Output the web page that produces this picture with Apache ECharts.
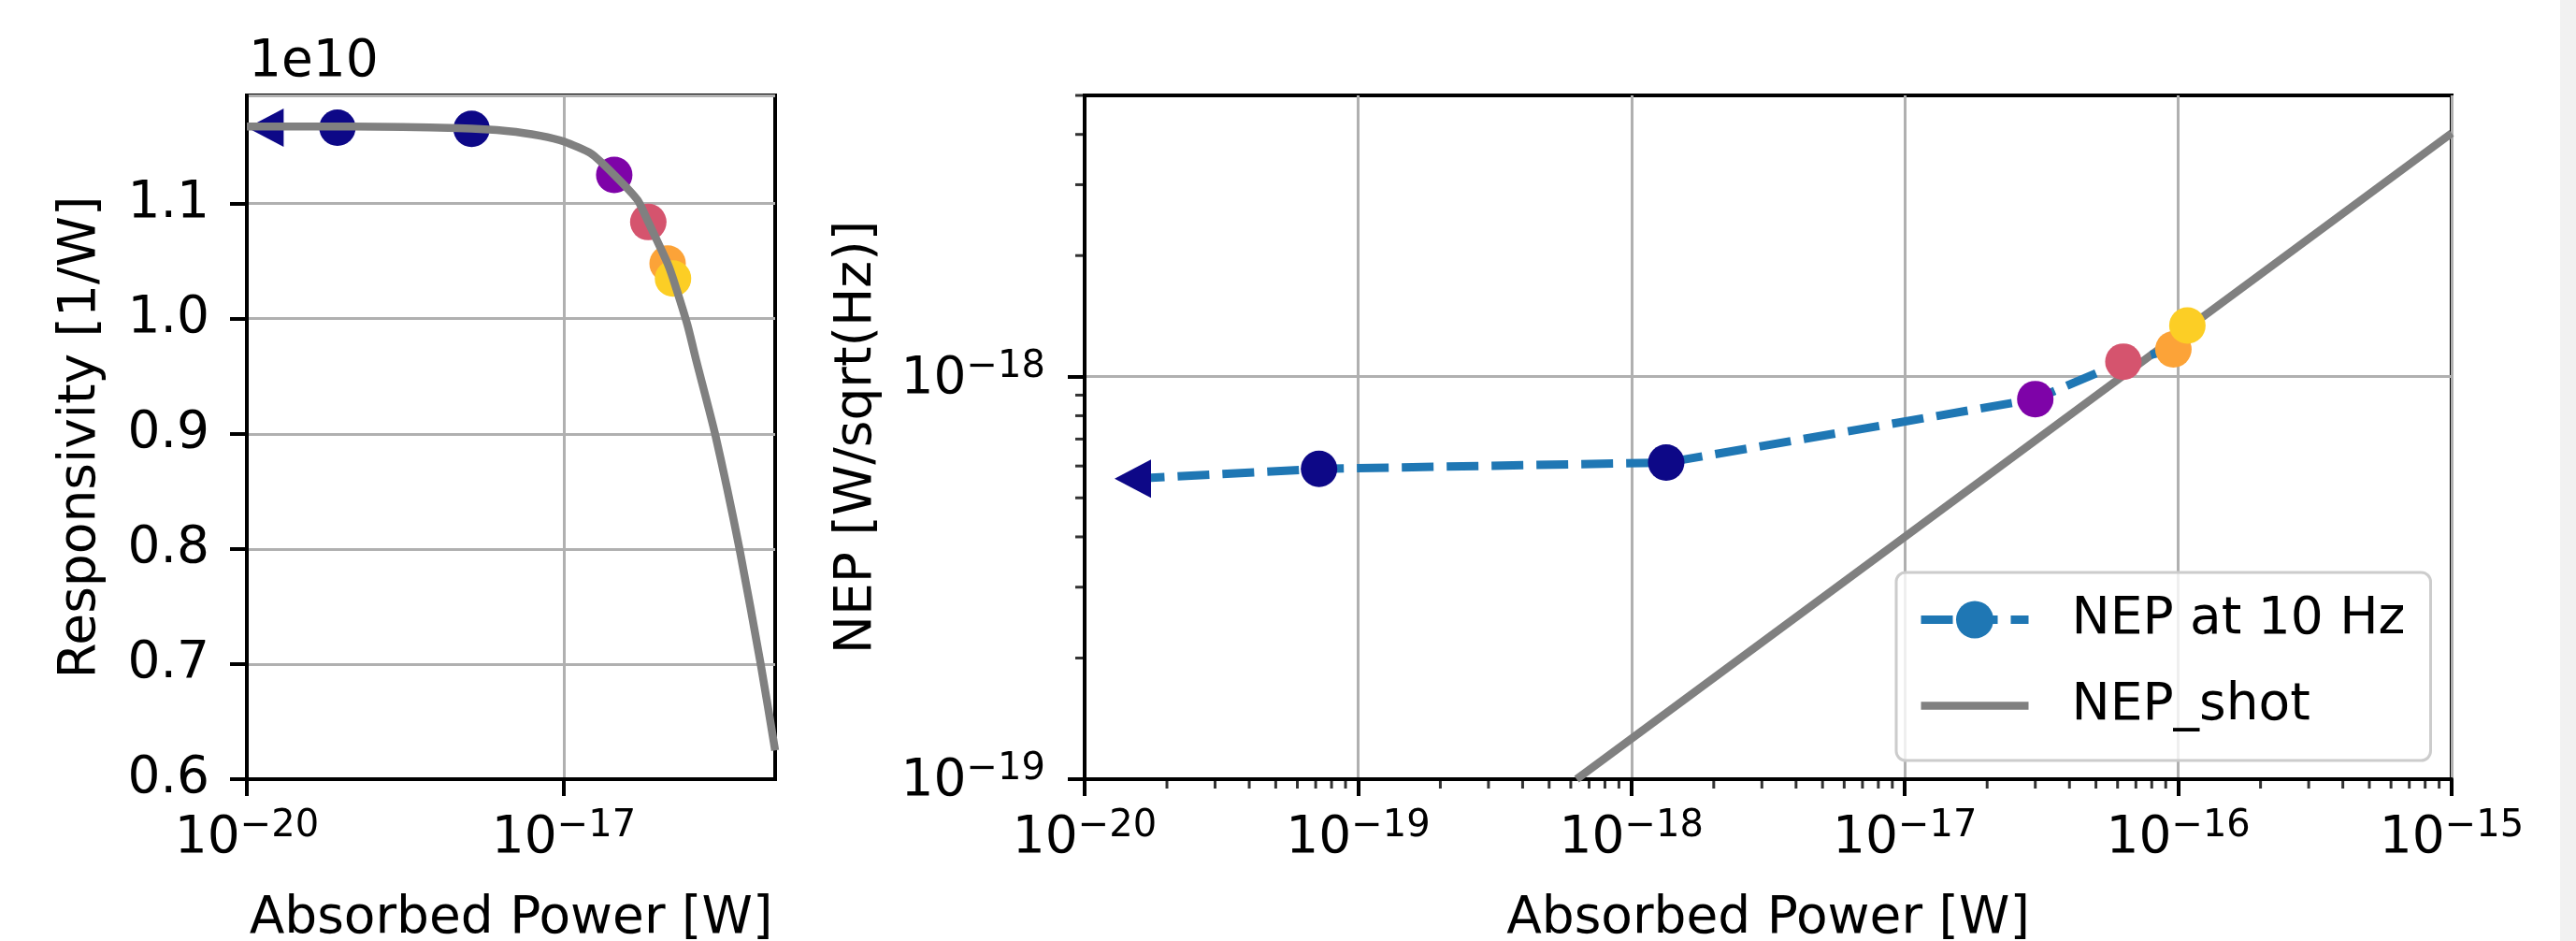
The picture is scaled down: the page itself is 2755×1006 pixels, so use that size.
<!DOCTYPE html>
<html style="height: 100%">
<head>
    <meta charset="UTF-8">
    <title>Responsivity and NEP vs absorbed power</title>
    <script src="https://cdn.jsdelivr.net/npm/echarts@6/dist/echarts.min.js"></script>
</head>
<body style="height: 100%; margin: 0; background: #fff">
    <div id="main" style="width: 2755px; height: 1006px"></div>
    <div style="position: absolute; left: 2738px; top: 0; width: 17px; height: 1006px; background: #f1f1f1"></div>
    <script type="text/javascript">
        // measured points (absorbed power in W)
        const power = [1.5e-20, 7.2e-20, 1.34e-18, 3.0e-17, 6.3e-17, 9.6e-17, 1.08e-16];
        const responsivity = [1.166e10, 1.166e10, 1.165e10, 1.125e10, 1.084e10, 1.048e10, 1.035e10];
        const nep = [5.58e-19, 5.9e-19, 6.12e-19, 8.8e-19, 1.09e-18, 1.17e-18, 1.34e-18];
        const pointColors = ['#0d0887', '#0d0887', '#0d0887', '#7e03a8', '#d5546e', '#fca338', '#fcce25'];

        // responsivity model curve (grey)
        const curvePower = [1e-20, 1e-19, 1e-18, 3e-18, 6e-18, 1e-17, 1.8e-17, 3e-17, 5e-17, 6.3e-17,
            9.6e-17, 1.08e-16, 1.48e-16, 1.8e-16, 2.7e-16, 4.6e-16, 7.3e-16, 1e-15];
        const curveResp = [1.167e10, 1.167e10, 1.1655e10, 1.163e10, 1.159e10, 1.154e10, 1.1436e10, 1.125e10,
            1.103e10, 1.084e10, 1.048e10, 1.035e10, 0.9945e10, 0.963e10, 0.9e10, 0.8e10, 0.7e10, 0.625e10];

        // shot noise limit
        const shotPower = [6.3e-19, 1e-15];
        const shotNep = [1e-19, 4.03e-18];

        // ticks
        const leftXTicks = [1e-20, 1e-17];
        const rightXTicks = [1e-20, 1e-19, 1e-18, 1e-17, 1e-16, 1e-15];
        const nepTicks = [1e-19, 1e-18];
        const minorXTicks = [];
        for (let e = -20; e < -15; e++) {
            for (let m = 2; m <= 9; m++) minorXTicks.push(m * Math.pow(10, e));
        }
        const minorYTicks = [2e-19, 3e-19, 4e-19, 5e-19, 6e-19, 7e-19, 8e-19, 9e-19, 2e-18, 3e-18, 4e-18, 5e-18];

        const FONT = 'DejaVu Sans';
        const black = '#000';
        const grey = '#808080';
        const blue = '#1f77b4';
        const dash = [34, 14];

        function powLabel(v) {
            const e = Math.round(Math.log10(v));
            return '{b|10}{s|' + (e < 0 ? '\u2212' + (-e) : e) + '}';
        }
        const powRich = {
            b: {fontSize: 55, lineHeight: 60, verticalAlign: 'bottom', fontFamily: FONT, color: black},
            s: {fontSize: 40, lineHeight: 30, verticalAlign: 'top', fontFamily: FONT, color: black}
        };

        const axisLine = {show: true, lineStyle: {color: black, width: 4}};
        const gridLine = {show: true, lineStyle: {color: '#b0b0b0', width: 3}};
        const nameStyle = {fontSize: 55, color: black, fontFamily: FONT};

        const myChart = echarts.init(document.getElementById('main'));

        myChart.setOption({
            animation: false,
            backgroundColor: '#fff',
            textStyle: {fontFamily: FONT},
            grid: [
                {left: 264, top: 102, width: 565, height: 731, show: true, borderColor: black, borderWidth: 4,
                    outerBoundsMode: 'none', containLabel: false},
                {left: 1160, top: 102, width: 1462, height: 731, show: true, borderColor: black, borderWidth: 4,
                    outerBoundsMode: 'none', containLabel: false}
            ],
            graphic: [{
                type: 'text', left: 266, top: 39,
                style: {text: '1e10', font: '55px "DejaVu Sans"', fill: black}
            }],
            legend: {
                data: [
                    {name: 'NEP at 10 Hz', lineStyle: {color: blue, width: 9, type: dash}},
                    {name: 'NEP_shot', itemStyle: {opacity: 0}, lineStyle: {color: grey, width: 8.5}}
                ],
                orient: 'vertical',
                left: 2028,
                top: 612,
                itemWidth: 115,
                itemHeight: 50,
                itemGap: 37,
                padding: [23, 27, 31, 22],
                backgroundColor: 'rgba(255,255,255,0.8)',
                borderColor: '#cccccc',
                borderWidth: 3,
                borderRadius: 10,
                textStyle: {fontSize: 55, color: black, fontFamily: FONT, padding: [0, 0, 0, 41]}
            },
            xAxis: [
                {
                    gridIndex: 0, type: 'log', logBase: 10, min: 1e-20, max: 1e-15,
                    name: 'Absorbed Power [W]', nameLocation: 'middle', nameGap: 122, nameTextStyle: nameStyle,
                    axisLine: axisLine,
                    axisTick: {customValues: leftXTicks, length: 18, lineStyle: {color: black, width: 4}},
                    axisLabel: {customValues: leftXTicks, formatter: powLabel, rich: powRich, margin: 31},
                    splitLine: gridLine
                },
                {
                    gridIndex: 1, type: 'log', logBase: 10, min: 1e-20, max: 1e-15,
                    name: 'Absorbed Power [W]', nameLocation: 'middle', nameGap: 122, nameTextStyle: nameStyle,
                    axisLine: axisLine,
                    axisTick: {customValues: rightXTicks, length: 18, lineStyle: {color: black, width: 4}},
                    axisLabel: {customValues: rightXTicks, formatter: powLabel, rich: powRich, margin: 31},
                    splitLine: gridLine
                }
            ],
            yAxis: [
                {
                    gridIndex: 0, type: 'value', min: 0.6e10, max: 1.194e10, interval: 0.1e10,
                    name: 'Responsivity [1/W]', nameLocation: 'middle', nameGap: 150, nameTextStyle: nameStyle,
                    axisLine: axisLine,
                    axisTick: {length: 18, lineStyle: {color: black, width: 4}},
                    axisLabel: {
                        formatter: function (v) { return (v / 1e10).toFixed(1); },
                        fontSize: 55, color: black, margin: 40, showMaxLabel: false
                    },
                    splitLine: gridLine
                },
                {
                    gridIndex: 1, type: 'log', logBase: 10, min: 1e-19, max: 5e-18,
                    name: 'NEP [W/sqrt(Hz)]', nameLocation: 'middle', nameGap: 216, nameTextStyle: nameStyle,
                    axisLine: axisLine,
                    axisTick: {customValues: nepTicks, length: 18, lineStyle: {color: black, width: 4}},
                    axisLabel: {customValues: nepTicks, formatter: powLabel, rich: powRich, margin: 42},
                    splitLine: gridLine
                }
            ],
            series: [
                {
                    name: 'Responsivity curve',
                    type: 'line',
                    xAxisIndex: 0, yAxisIndex: 0,
                    data: curvePower.map((p, i) => [p, curveResp[i]]),
                    showSymbol: false,
                    smooth: 0.2,
                    lineStyle: {color: grey, width: 8.5},
                    silent: true
                },
                {
                    name: 'Responsivity points',
                    type: 'scatter',
                    xAxisIndex: 0, yAxisIndex: 0,
                    symbolSize: 39,
                    clip: false,
                    data: power.map((p, i) => ({
                        value: [p, responsivity[i]],
                        symbol: i === 0 ? 'triangle' : 'circle',
                        symbolSize: i === 0 ? [41, 39] : 39,
                        symbolRotate: i === 0 ? 90 : 0,
                        itemStyle: {color: pointColors[i], opacity: 1}
                    })),
                    silent: true
                },
                {
                    // minor ticks of the log x axis (right panel)
                    name: 'minor x ticks',
                    type: 'scatter',
                    xAxisIndex: 1, yAxisIndex: 1,
                    symbol: 'rect',
                    symbolSize: [3, 10],
                    symbolOffset: [0, 5],
                    clip: false,
                    itemStyle: {color: black},
                    data: minorXTicks.map(v => [v, 1e-19]),
                    silent: true
                },
                {
                    // minor ticks of the log y axis (right panel)
                    name: 'minor y ticks',
                    type: 'scatter',
                    xAxisIndex: 1, yAxisIndex: 1,
                    symbol: 'rect',
                    symbolSize: [10, 3],
                    symbolOffset: [-5, 0],
                    clip: false,
                    itemStyle: {color: black},
                    data: minorYTicks.map(v => [1e-20, v]),
                    silent: true
                },
                {
                    name: 'NEP_shot',
                    type: 'line',
                    xAxisIndex: 1, yAxisIndex: 1,
                    data: shotPower.map((p, i) => [p, shotNep[i]]),
                    showSymbol: false,
                    itemStyle: {color: grey},
                    lineStyle: {color: grey, width: 8.5},
                    silent: true
                },
                {
                    name: 'NEP at 10 Hz',
                    type: 'line',
                    xAxisIndex: 1, yAxisIndex: 1,
                    symbol: 'circle',
                    symbolSize: 39,
                    itemStyle: {color: blue},
                    lineStyle: {color: blue, width: 9, type: dash},
                    data: power.map((p, i) => ({
                        value: [p, nep[i]],
                        symbol: i === 0 ? 'triangle' : 'circle',
                        symbolSize: i === 0 ? [41, 39] : 39,
                        symbolRotate: i === 0 ? 90 : 0,
                        itemStyle: {color: pointColors[i]}
                    })),
                    silent: true
                }
            ]
        });
    </script>
</body>
</html>
